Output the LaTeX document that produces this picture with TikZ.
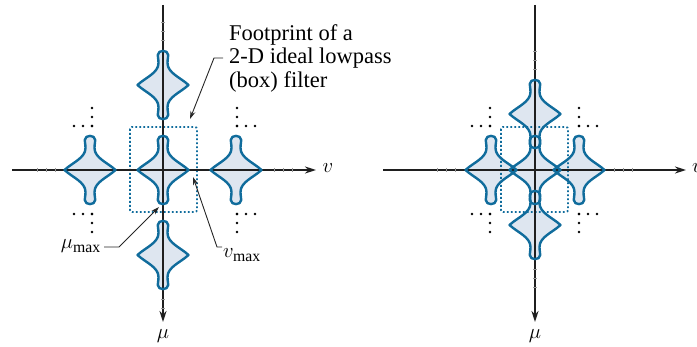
\documentclass[tikz,border=0pt]{standalone}
\usepackage{fontspec}
\setmainfont{Liberation Serif}
\usetikzlibrary{arrows.meta,positioning,calc}
\tikzset{>=Stealth}

\definecolor{lineblue}{RGB}{16,108,156}
\definecolor{fillblue}{RGB}{222,230,240}

% one star-like spectrum period, centred on the origin (units = px)
\newcommand{\blobpath}{(25.5,0) .. controls (17.5,-7.5) and (4.5,-12) .. (4.5,-22)
  .. controls (4.5,-26) and (5.2,-27) .. (5.2,-30)
  .. controls (5.2,-35.5) and (-5.2,-35.5) .. (-5.2,-30)
  .. controls (-5.2,-27) and (-4.5,-26) .. (-4.5,-22)
  .. controls (-4.5,-12) and (-17.5,-7.5) .. (-25.5,0)
  .. controls (-17.5,7.5) and (-4.5,12) .. (-4.5,22)
  .. controls (-4.5,26) and (-5.2,27) .. (-5.2,30)
  .. controls (-5.2,35.5) and (5.2,35.5) .. (5.2,30)
  .. controls (5.2,27) and (4.5,26) .. (4.5,22)
  .. controls (4.5,12) and (17.5,7.5) .. (25.5,0) -- cycle}

\begin{document}
\begin{tikzpicture}[
    x=1pt, y=-1pt,
    blobfill/.style={fill=fillblue},
    blobline/.style={draw=lineblue, line width=2.4pt, line join=round},
    footbox/.style={draw=lineblue, line width=1.8pt, dash pattern=on 1.8pt off 2.2pt, rounded corners=2pt},
    axis/.style={draw=black!88, line width=1.8pt, -{Stealth[length=11pt,width=7pt]}},
    tick/.style={draw=black!40, line width=0.9pt},
    pointer/.style={draw=black!85, line width=0.9pt, -{Stealth[length=8pt,width=5pt]}},
    lab/.style={font=\fontsize{22.5}{23.5}\selectfont, inner sep=0pt}
  ]
  \useasboundingbox (0,0) rectangle (697,347);

  % left: separated periods, right: overlapping periods
  \foreach \px/\py in {163/170, 163/85, 163/255, 90/170, 236/170,
                  535/170, 535/114, 535/225, 491/170, 579/170}
    \fill[blobfill, shift={(\px,\py)}] \blobpath;

  \draw[footbox] (130,127) rectangle (197,212);
  \draw[footbox] (501,127) rectangle (568,212);

  % axes
  \draw[axis] (12,170) -- (316,170);
  \draw[axis] (163,5) -- (163,322);
  \draw[axis] (383,170) -- (686,170);
  \draw[axis] (535,5) -- (535,322);
  \foreach \t in {37,46,55,274,283,292,437,446,455,614,623,632}
    \draw[tick] (\t,168) -- (\t,172);
  \foreach \t in {22,31,40,299,308}
    \draw[tick] (161,\t) -- (165,\t);
  \foreach \t in {51,60,69,269,278,287}
    \draw[tick] (533,\t) -- (537,\t);

  \foreach \px/\py in {163/170, 163/85, 163/255, 90/170, 236/170,
                  535/170, 535/114, 535/225, 491/170, 579/170}
    \draw[blobline, shift={(\px,\py)}] \blobpath;

  % continuation dots
  \foreach \cx/\cy/\sx/\sy in {92/126/-1/-1, 237/126/1/-1, 92/214/-1/1, 237/214/1/1,
                                490/126/-1/-1, 579/126/1/-1, 490/214/-1/1, 579/214/1/1}
    \foreach \k in {0,1,2} {
      \fill (\cx+\sx*9*\k,\cy) circle (1.4);
      \fill (\cx,\cy+\sy*9*\k) circle (1.4);
    }

  % labels
  \node[lab, anchor=west, align=left] (foot) at (229,58) {Footprint of a\\2-D ideal lowpass\\(box) filter};
  \node[lab, anchor=base east] (mumax) at (101,249) {$\mu_{\max}$};
  \node[lab, anchor=base west] (numax) at (223,258) {$v_{\max}$};
  \node[lab] (vl) at (328,168) {$v$};
  \node[lab] (mul) at (163,336) {$\mu$};
  \node[lab, anchor=west] (vr) at (692,168) {$v$};
  \node[lab] (mur) at (535,336) {$\mu$};

  \coordinate (boxtip) at (190,119);
  \coordinate (mutip) at (159,207);
  \coordinate (nutip) at (193,177);
  \draw[pointer] ($(foot.west)+(-6,0)$) -- ++(-9,0) -- (boxtip);
  \draw[pointer] ($(mumax.base east)+(3,-2)$) -- ++(15,0) -- (mutip);
  \draw[pointer] ($(numax.base west)+(-1,-11)$) -- ++(-5,0) -- (nutip);
\end{tikzpicture}
\end{document}
